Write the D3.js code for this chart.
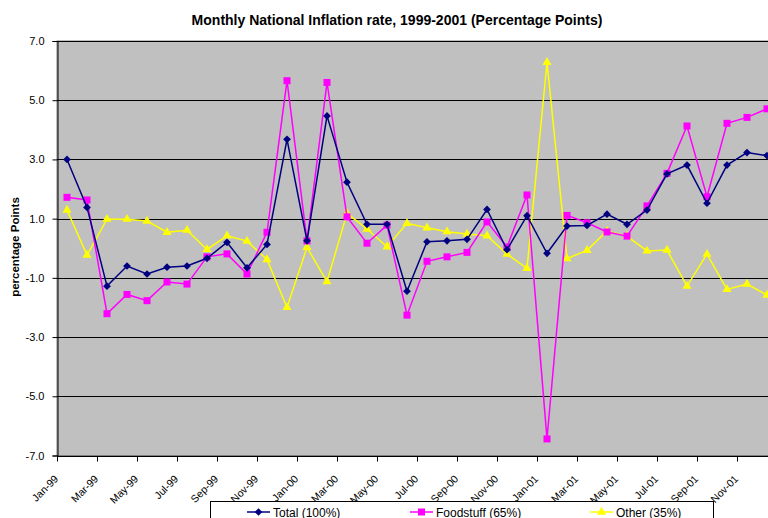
<!DOCTYPE html>
<html>
<head>
<meta charset="utf-8">
<script src="https://cdnjs.cloudflare.com/ajax/libs/d3/7.8.5/d3.min.js"></script>
<style>
  body { margin: 0; background: #fff; }
  svg text { font-family: "Liberation Sans", Arial, sans-serif; fill: #000; }
</style>
</head>
<body>
<script>
var months = ["Jan-99","Feb-99","Mar-99","Apr-99","May-99","Jun-99","Jul-99","Aug-99","Sep-99","Oct-99","Nov-99","Dec-99",
              "Jan-00","Feb-00","Mar-00","Apr-00","May-00","Jun-00","Jul-00","Aug-00","Sep-00","Oct-00","Nov-00","Dec-00",
              "Jan-01","Feb-01","Mar-01","Apr-01","May-01","Jun-01","Jul-01","Aug-01","Sep-01","Oct-01","Nov-01","Dec-01"];

var total = [3.0, 1.38, -1.28, -0.6, -0.87, -0.64, -0.6, -0.34, 0.2, -0.66, 0.13, 3.68,
             0.25, 4.47, 2.23, 0.81, 0.81, -1.45, 0.22, 0.25, 0.3, 1.31, -0.05, 1.1,
             -0.17, 0.75, 0.77, 1.15, 0.81, 1.29, 2.51, 2.81, 1.52, 2.81, 3.23, 3.13];

var foodstuff = [1.72, 1.63, -2.21, -1.56, -1.77, -1.14, -1.21, -0.29, -0.19, -0.87, 0.54, 5.66,
                 0.25, 5.6, 1.06, 0.17, 0.78, -2.26, -0.44, -0.29, -0.14, 0.89, 0.04, 1.8,
                 -6.44, 1.11, 0.86, 0.55, 0.41, 1.43, 2.53, 4.13, 1.74, 4.22, 4.42, 4.71];

var other = [1.29, -0.23, 0.98, 0.98, 0.92, 0.54, 0.61, -0.04, 0.42, 0.24, -0.38, -2.0,
             0.03, -1.13, 1.18, 0.65, 0.05, 0.84, 0.69, 0.56, 0.48, 0.42, -0.2, -0.68,
             6.28, -0.35, -0.07, 0.58, 0.41, -0.09, -0.06, -1.28, -0.2, -1.39, -1.21, -1.58];

var yTicks = [7, 5, 3, 1, -1, -3, -5, -7];

var series = [
  { name: "Total (100%)", values: total, color: "#000080", shape: d3.symbolDiamond2, size: 38 },
  { name: "Foodstuff (65%)", values: foodstuff, color: "#FF00FF", shape: d3.symbolSquare, size: 49 },
  { name: "Other (35%)", values: other, color: "#FFFF00", shape: d3.symbolTriangle, size: 36 }
];

var width = 768, height = 518;
var plotLeft = 57, plotTop = 41, plotW = 720, plotBottom = 455.5;

var svg = d3.select("body").append("svg")
  .attr("width", width)
  .attr("height", height);

var x = d3.scaleBand().domain(months).range([plotLeft, plotLeft + plotW]);
var y = d3.scaleLinear().domain([-7, 7]).range([plotBottom, plotTop]);

// plot background
svg.append("rect")
  .attr("x", plotLeft).attr("y", plotTop)
  .attr("width", plotW).attr("height", plotBottom - plotTop)
  .attr("fill", "#C0C0C0")
  .attr("stroke", "#808080");

// gridlines
svg.append("g").selectAll("line")
  .data(yTicks)
  .enter().append("line")
  .attr("x1", plotLeft).attr("x2", plotLeft + plotW)
  .attr("y1", function(d) { return Math.round(y(d)) + 0.5; })
  .attr("y2", function(d) { return Math.round(y(d)) + 0.5; })
  .attr("stroke", "#000");

// y axis
var yAxis = svg.append("g")
  .attr("transform", "translate(" + (plotLeft + 0.5) + ",0)")
  .call(d3.axisLeft(y).tickValues(yTicks)
    .tickFormat(function(d) { return d.toFixed(1); })
    .tickSize(5).tickPadding(8));
yAxis.select(".domain").attr("stroke", "#000");
yAxis.selectAll("text").style("font-size", "11px").style("font-family", "Liberation Sans, Arial, sans-serif");

// x axis
var xAxis = svg.append("g")
  .attr("transform", "translate(0," + (Math.round(plotBottom) + 0.5) + ")");
xAxis.append("line")
  .attr("x1", plotLeft).attr("x2", plotLeft + plotW)
  .attr("stroke", "#000");
var oddMonths = months.filter(function(d, i) { return i % 2 === 0; });
xAxis.selectAll("line.tick")
  .data(oddMonths)
  .enter().append("line")
  .attr("class", "tick")
  .attr("x1", function(d) { return Math.round(x(d)) + 0.5; })
  .attr("x2", function(d) { return Math.round(x(d)) + 0.5; })
  .attr("y1", 0).attr("y2", 5)
  .attr("stroke", "#000");
xAxis.selectAll("text")
  .data(oddMonths)
  .enter().append("text")
  .attr("transform", function(d) {
    return "translate(" + (x(d) + x.bandwidth() / 2 - 8) + ",23) rotate(-45)";
  })
  .attr("text-anchor", "end")
  .style("font-size", "10.5px")
  .text(function(d) { return d; });

// lines and markers
var line = d3.line()
  .x(function(d, i) { return x(months[i]) + x.bandwidth() / 2; })
  .y(function(d) { return y(d); });

series.slice().reverse().forEach(function(s) {
  var g = svg.append("g");
  g.append("path")
    .datum(s.values)
    .attr("fill", "none")
    .attr("stroke", s.color)
    .attr("stroke-width", 1.5)
    .attr("d", line);
  g.selectAll("path.m")
    .data(s.values)
    .enter().append("path")
    .attr("class", "m")
    .attr("transform", function(d, i) {
      return "translate(" + (x(months[i]) + x.bandwidth() / 2) + "," + y(d) + ")";
    })
    .attr("d", d3.symbol().type(s.shape).size(s.size))
    .attr("fill", s.color);
});

// title
svg.append("text")
  .attr("x", 397).attr("y", 25)
  .attr("text-anchor", "middle")
  .style("font-size", "14px")
  .style("font-weight", "bold")
  .text("Monthly National Inflation rate, 1999-2001 (Percentage Points)");

// y label
svg.append("text")
  .attr("transform", "translate(19,247) rotate(-90)")
  .attr("text-anchor", "middle")
  .style("font-size", "11.5px")
  .style("font-weight", "bold")
  .text("percentage Points");

// legend
var legend = svg.append("g");
legend.append("rect")
  .attr("x", 210.5).attr("y", 501.5)
  .attr("width", 503).attr("height", 30)
  .attr("fill", "#fff")
  .attr("stroke", "#000");
var legX = [247, 410, 590];
series.forEach(function(s, i) {
  var g = legend.append("g").attr("transform", "translate(" + legX[i] + ",512)");
  g.append("line").attr("x1", 0).attr("x2", 23).attr("stroke", s.color).attr("stroke-width", 1.5);
  g.append("path").attr("transform", "translate(11.5,0)")
    .attr("d", d3.symbol().type(s.shape).size(s.size)).attr("fill", s.color);
  g.append("text").attr("x", 26).attr("y", 4.5).style("font-size", "12px").text(s.name);
});
</script>
</body>
</html>
